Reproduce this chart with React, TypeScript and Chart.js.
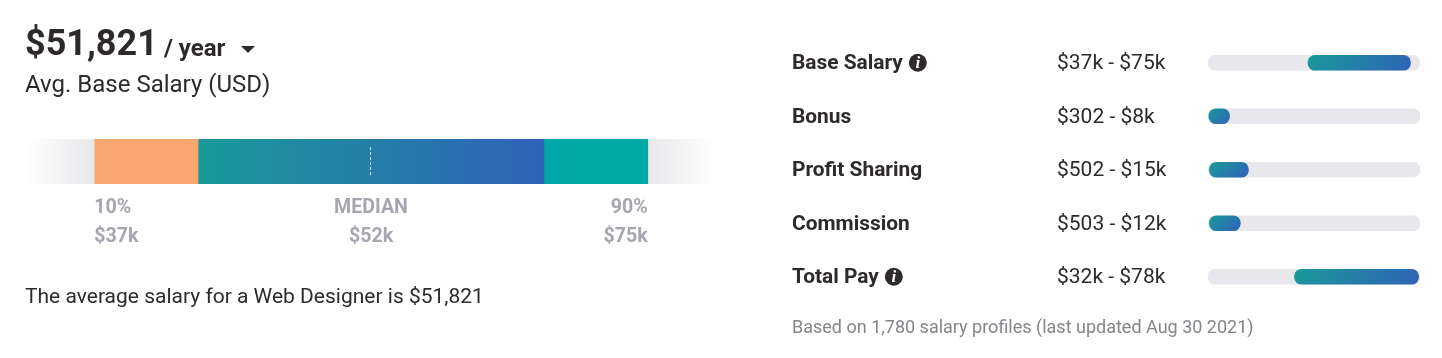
import React, { useEffect, useRef } from "react";
import { Chart, registerables } from "chart.js";

Chart.register(...registerables);

const FONT = "Roboto, sans-serif";
const INK = "#2e2a2a";

// Left chart: percentile band, shares of the bar width in percent
const bandLabels = ["Salary range"];
const bandShares = [10, 15, 50, 15, 10];
const percentileTicks = [10, 50, 90];
const percentileNames = ["10%", "MEDIAN", "90%"];
const percentileValues = ["$37k", "$52k", "$75k"];
const medianAt = 50;

// Right chart: pay ranges, thousands of USD
const payCategories = ["Base Salary", "Bonus", "Profit Sharing", "Commission", "Total Pay"];
const payRanges = ["$37k - $75k", "$302 - $8k", "$502 - $15k", "$503 - $12k", "$32k - $78k"];
const payLow = [37, 0.302, 0.502, 0.503, 32];
const payHigh = [75, 8, 15, 12, 78];
const payMax = 78.5;
const infoCategories = ["Base Salary", "Total Pay"];

function hGrad(chart: any, stops: [number, string][], x0: number, x1: number) {
  const g = chart.ctx.createLinearGradient(x0, 0, x1, 0);
  stops.forEach(([o, c]) => g.addColorStop(o, c));
  return g;
}

const medianLine = {
  id: "medianLine",
  afterDatasetsDraw(chart: any) {
    const { ctx, chartArea, scales } = chart;
    const x = Math.round(scales.x.getPixelForValue(medianAt)) - 0.5;
    ctx.save();
    ctx.strokeStyle = "rgba(255,255,255,0.8)";
    ctx.lineWidth = 1;
    ctx.setLineDash([3, 2]);
    ctx.beginPath();
    ctx.moveTo(x, chartArea.top + 8);
    ctx.lineTo(x, chartArea.bottom - 7);
    ctx.stroke();
    ctx.restore();
  },
};

const NAME_FONT = `700 20.9px ${FONT}`;

const infoIcons = {
  id: "infoIcons",
  afterDraw(chart: any) {
    const { ctx, scales } = chart;
    const y = scales.y;
    ctx.save();
    infoCategories.forEach((name) => {
      const i = payCategories.indexOf(name);
      const cy = y.getPixelForValue(i);
      ctx.font = NAME_FONT;
      const cx = y.left + ctx.measureText(name).width + 15;
      ctx.fillStyle = INK;
      ctx.beginPath();
      ctx.arc(cx, cy, 9, 0, Math.PI * 2);
      ctx.fill();
      ctx.fillStyle = "#fff";
      ctx.textAlign = "center";
      ctx.textBaseline = "middle";
      ctx.font = `italic bold 17px "Liberation Serif", serif`;
      ctx.fillText("i", cx, cy + 0.5);
    });
    ctx.restore();
  },
};

const abs = (x: number, y: number, size: number, weight: number, color: string): React.CSSProperties => ({
  position: "absolute",
  left: x,
  top: y,
  fontFamily: FONT,
  fontSize: size,
  fontWeight: weight,
  color,
  lineHeight: 1,
  whiteSpace: "nowrap",
});

export default function App() {
  const leftRef = useRef<HTMLCanvasElement>(null);
  const rightRef = useRef<HTMLCanvasElement>(null);

  useEffect(() => {
    const bandColor = (i: number) => (c: any) => {
      const ch = c.chart;
      const x = ch.scales.x;
      if (!x || !ch.chartArea) return "#cccccc";
      const start = bandShares.slice(0, i).reduce((a, b) => a + b, 0);
      const p0 = x.getPixelForValue(start);
      const p1 = x.getPixelForValue(start + bandShares[i]);
      if (!Number.isFinite(p0) || !Number.isFinite(p1)) return "#cccccc";
      if (i === 0) return hGrad(ch, [[0, "#ffffff"], [1, "#e8e8eb"]], p0, p1);
      if (i === 1) return "#f7a76f";
      if (i === 2) return hGrad(ch, [[0, "#1a9a9a"], [1, "#2f62b8"]], p0, p1);
      if (i === 3) return "#00a9a5";
      return hGrad(ch, [[0, "#e8e8eb"], [1, "#ffffff"]], p0, p1);
    };

    const left = new Chart(leftRef.current!, {
      type: "bar",
      data: {
        labels: bandLabels,
        datasets: bandShares.map((v, i) => ({
          data: [v],
          backgroundColor: bandColor(i),
          borderWidth: 0,
          barPercentage: 1,
          categoryPercentage: 1,
        })),
      },
      options: {
        indexAxis: "y",
        responsive: false,
        animation: false,
        layout: { padding: { left: 25, right: 13, top: 139, bottom: 0 } },
        plugins: { legend: { display: false }, tooltip: { enabled: false } },
        scales: {
          x: {
            type: "linear",
            stacked: true,
            min: 0,
            max: 100,
            grid: { display: false },
            border: { display: false },
            afterBuildTicks: (axis: any) => {
              axis.ticks = percentileTicks.map((value) => ({ value }));
            },
            afterFit: (axis: any) => {
              axis.height = 174;
            },
            ticks: {
              autoSkip: false,
              maxRotation: 0,
              align: "inner",
              padding: 2,
              color: "#a6a6ae",
              font: { family: FONT, size: 19.6, weight: "700", lineHeight: 1.48 },
              callback: (value: any) => {
                const i = percentileTicks.indexOf(value);
                return [percentileNames[i], percentileValues[i]];
              },
            },
          },
          y: { stacked: true, display: false },
        },
      } as any,
      plugins: [medianLine],
    });

    const trackData = payCategories.map(() => [0, payMax]);
    const fillData = payLow.map((v, i) => [v, payHigh[i]]);

    const fillColor = (c: any) => {
      const ch = c.chart;
      const x = ch.scales.x;
      const y = ch.scales.y;
      if (!x || !y || !ch.chartArea) return "#2a7aa8";
      const x0 = x.getPixelForValue(Math.max(payLow[c.dataIndex], 0));
      const x1 = x.getPixelForValue(payHigh[c.dataIndex]);
      const cy = y.getPixelForValue(c.dataIndex);
      if (![x0, x1, cy].every(Number.isFinite)) return "#2a7aa8";
      const cx = (x0 + x1) / 2;
      const d = (x1 - x0 + 15) / 4;
      const g = ch.ctx.createLinearGradient(cx - d, cy - d, cx + d, cy + d);
      g.addColorStop(0, "#1a9a9a");
      g.addColorStop(1, "#2f62b8");
      return g;
    };

    const right = new Chart(rightRef.current!, {
      type: "bar",
      data: {
        labels: payCategories,
        datasets: [
          {
            label: "Range",
            data: fillData,
            backgroundColor: fillColor,
            borderWidth: 0,
            borderSkipped: false,
            borderRadius: 8,
            barThickness: 15,
            grouped: false,
            order: 1,
          },
          {
            label: "Track",
            data: trackData,
            backgroundColor: "#e8e8ec",
            borderWidth: 0,
            borderSkipped: false,
            borderRadius: 8,
            barThickness: 15,
            grouped: false,
            order: 2,
          },
        ],
      },
      options: {
        indexAxis: "y",
        responsive: false,
        animation: false,
        layout: { padding: { left: 12, right: 22, top: 36, bottom: 54.5 } },
        plugins: { legend: { display: false }, tooltip: { enabled: false } },
        scales: {
          x: { type: "linear", min: 0, max: payMax, display: false },
          y: {
            type: "category",
            position: "left",
            weight: 2,
            grid: { display: false },
            border: { display: false },
            afterFit: (axis: any) => {
              axis.width = 265;
            },
            ticks: {
              crossAlign: "far",
              color: INK,
              padding: 0,
              labelOffset: 1.4,
              font: { family: FONT, size: 20.9, weight: "700" },
            },
          },
          y2: {
            type: "category",
            position: "left",
            labels: payRanges,
            weight: 1,
            grid: { display: false },
            border: { display: false },
            afterFit: (axis: any) => {
              axis.width = 151;
            },
            ticks: {
              crossAlign: "far",
              color: INK,
              padding: 0,
              labelOffset: 1.4,
              font: { family: FONT, size: 21, weight: "400" },
            },
          },
        },
      } as any,
      plugins: [infoIcons],
    });

    return () => {
      left.destroy();
      right.destroy();
    };
  }, []);

  return (
    <div style={{ position: "fixed", left: 0, top: 0, width: 1442, height: 358, background: "#fff", overflow: "hidden" }}>
      <canvas ref={leftRef} width={730} height={358} style={{ position: "absolute", left: 0, top: 0 }} />
      <canvas ref={rightRef} width={662} height={358} style={{ position: "absolute", left: 780, top: 0 }} />
      <div style={abs(25, 25, 36, 700, INK)}>$51,821</div>
      <div style={abs(164, 36, 24, 700, INK)}>/ year</div>
      <div
        style={{
          position: "absolute",
          left: 241,
          top: 46,
          width: 0,
          height: 0,
          borderLeft: "7.5px solid transparent",
          borderRight: "7.5px solid transparent",
          borderTop: "7px solid " + INK,
        }}
      />
      <div style={abs(25, 72, 24, 400, INK)}>Avg. Base Salary (USD)</div>
      <div style={abs(25, 286, 21, 400, INK)}>The average salary for a Web Designer is $51,821</div>
      <div style={abs(792, 318, 18, 400, "#85858b")}>Based on 1,780 salary profiles (last updated Aug 30 2021)</div>
    </div>
  );
}
